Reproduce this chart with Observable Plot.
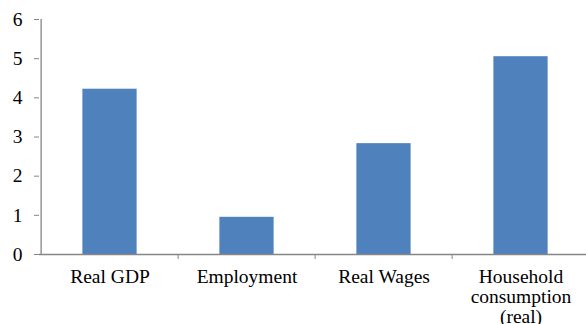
<!DOCTYPE html>
<html><head><meta charset="utf-8">
<script src="https://cdn.jsdelivr.net/npm/d3@7"></script>
<script src="https://cdn.jsdelivr.net/npm/@observablehq/plot@0.6"></script>
<style>
body{margin:0;background:#fff;overflow:hidden}
#chart svg, #chart svg text, #chart svg tspan { font-family: "Liberation Serif", Tinos, "Times New Roman", Times, "DejaVu Serif", serif !important; }
</style>
</head><body><div id="chart"></div>
<script>
const categories = ["Real GDP", "Employment", "Real Wages", "Household consumption (real)"];
const labels = ["Real GDP", "Employment", "Real Wages", "Household\nconsumption\n(real)"];
const values = [4.22, 0.95, 2.83, 5.05];
const yTicks = [0, 1, 2, 3, 4, 5, 6];

const data = categories.map((c, i) => ({category: c, label: labels[i], value: values[i]}));

const W = 586, H = 324, mL = 39, mR = -4, mT = 19, mB = 70;
const bw = (W - mL - mR) / categories.length;
const barW = 55;
const inset = (bw - barW) / 2;
const gray = "#868686";
const pxPerUnit = (H - mT - mB) / 6;

const plot = Plot.plot({
  width: W, height: H,
  marginLeft: mL, marginRight: mR, marginTop: mT, marginBottom: mB,
  style: {fontSize: "19.5px", color: "#000", background: "#fff", overflow: "visible"},
  x: {domain: categories, padding: 0, axis: null},
  y: {domain: [0, 6]},
  marks: [
    Plot.barY(data, {x: "category", y: "value", fill: "#4F81BD", insetLeft: inset, insetRight: inset}),
    Plot.ruleY([0], {stroke: gray, strokeWidth: 1.3}),
    Plot.ruleX([categories[0]], {x: d => d, dx: -bw / 2, y1: 0, y2: 6, stroke: gray, strokeWidth: 1.3}),
    Plot.ruleX(categories.slice(1), {x: d => d, dx: -bw / 2, y1: 0, y2: -5 / pxPerUnit, stroke: gray, strokeWidth: 1}),
    Plot.axisY(yTicks, {tickSize: 5, tickPadding: 12, stroke: gray, fill: "#000", label: null, fontSize: 19.5, fontFamily: "Liberation Serif"}),
    Plot.text(data, {x: "category", y: 0, text: "label", dy: 13.5, lineAnchor: "top", lineHeight: 1.05, fontSize: 19.5, fontFamily: "Liberation Serif", fill: "#000"})
  ]
});
document.getElementById("chart").appendChild(plot);
</script>
</body></html>
